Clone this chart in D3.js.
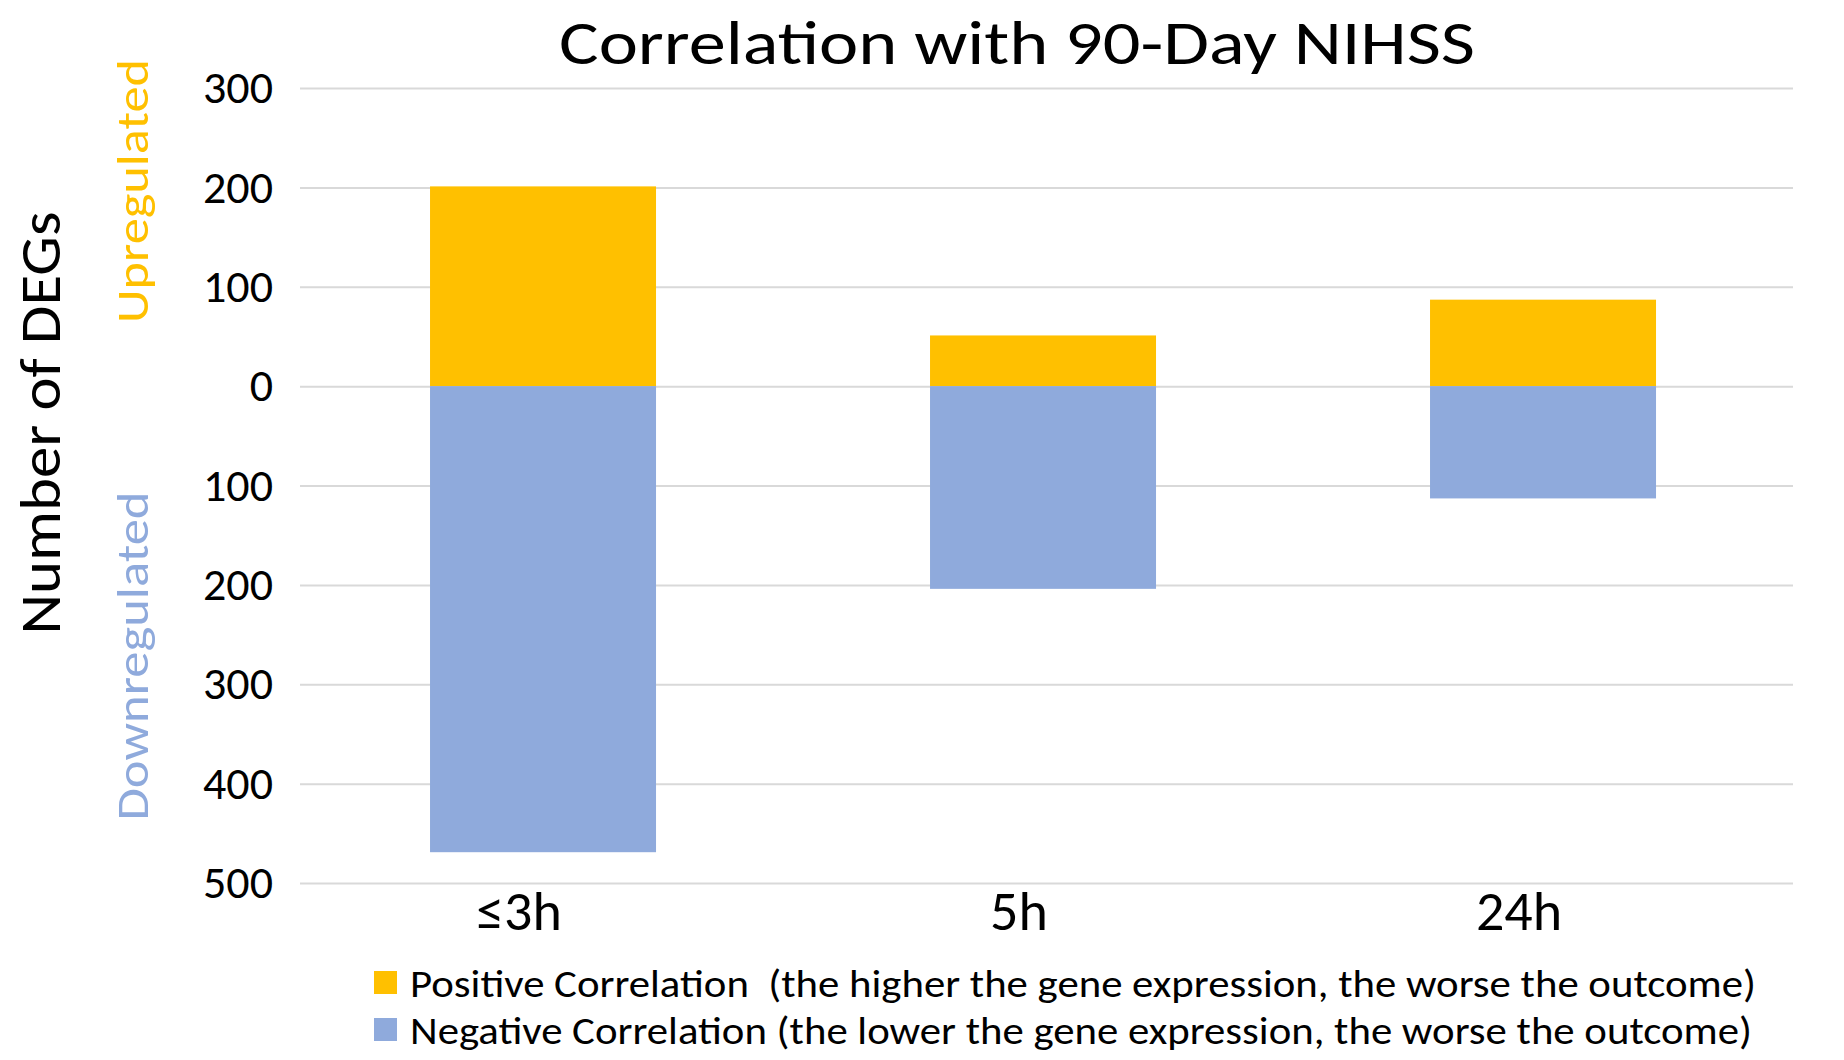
<!DOCTYPE html>
<html>
<head>
<meta charset="utf-8">
<script src="https://cdn.jsdelivr.net/npm/d3@7"></script>
<style>
  body { margin: 0; background: #fff; }
  text { font-family: Carlito, Lato, "Open Sans", sans-serif; }
</style>
</head>
<body>
<div id="chart"></div>
<script>
var categories = ["\u22643h", "5h", "24h"];
var upregulated = [201, 51, 87];      // positive correlation
var downregulated = [469, 204, 113];  // negative correlation
var tickValues = [300, 200, 100, 0, -100, -200, -300, -400, -500];
var legendLabels = [
  "Positive Correlation\u00a0\u00a0(the higher the gene expression, the worse the outcome)",
  "Negative Correlation (the lower the gene expression, the worse the outcome)"
];

var W = 1844, H = 1060;
var svg = d3.select("#chart").append("svg").attr("width", W).attr("height", H),
    margin = {top: 88, right: 51, bottom: 177, left: 300},
    width = W - margin.left - margin.right,
    height = H - margin.top - margin.bottom,
    g = svg.append("g").attr("transform", "translate(" + margin.left + "," + margin.top + ")");

var colUp = "#FFC000", colDown = "#8FAADC";

var x = d3.scaleBand()
    .domain(categories)
    .range([0, width])
    .paddingInner(0.548)
    .paddingOuter(0.267)
    .align(0.487);

var y = d3.scaleLinear()
    .domain([-500, 300])
    .range([height, 0]);

// gridlines + tick labels
var yAxis = g.append("g")
    .call(d3.axisLeft(y).tickValues(tickValues).tickSize(-width).tickPadding(27)
      .tickFormat(function(d) { return Math.abs(d); }));
yAxis.select(".domain").remove();
yAxis.selectAll(".tick line").attr("stroke", "#d9d9d9").attr("stroke-width", 2);
yAxis.selectAll(".tick text").attr("font-size", 46).attr("fill", "#000");

var data = categories.map(function(c, i) { return {cat: c, up: upregulated[i], down: downregulated[i]}; });

g.selectAll(".up")
  .data(data)
  .enter().append("rect")
    .attr("class", "up")
    .attr("x", function(d) { return x(d.cat); })
    .attr("width", x.bandwidth())
    .attr("y", function(d) { return y(d.up); })
    .attr("height", function(d) { return y(0) - y(d.up); })
    .attr("fill", colUp);

g.selectAll(".down")
  .data(data)
  .enter().append("rect")
    .attr("class", "down")
    .attr("x", function(d) { return x(d.cat); })
    .attr("width", x.bandwidth())
    .attr("y", y(0))
    .attr("height", function(d) { return y(-d.down) - y(0); })
    .attr("fill", colDown);

// category labels
g.selectAll(".cat")
  .data(categories)
  .enter().append("text")
    .attr("class", "cat")
    .attr("x", function(d) { return x(d) + x.bandwidth() / 2 - 24; })
    .attr("y", height + 47)
    .attr("text-anchor", "middle")
    .attr("font-size", 56)
    .text(function(d) { return d; });

// title
svg.append("text")
    .attr("x", 1017).attr("y", 64)
    .attr("text-anchor", "middle")
    .attr("font-size", 62)
    .attr("textLength", 916).attr("lengthAdjust", "spacingAndGlyphs")
    .text("Correlation with 90-Day NIHSS");

// y titles
svg.append("text")
    .attr("transform", "translate(60,423) rotate(-90)")
    .attr("text-anchor", "middle")
    .attr("font-size", 58)
    .attr("textLength", 423).attr("lengthAdjust", "spacingAndGlyphs")
    .text("Number of DEGs");

svg.append("text")
    .attr("transform", "translate(148,191) rotate(-90)")
    .attr("text-anchor", "middle")
    .attr("font-size", 46)
    .attr("fill", colUp)
    .attr("textLength", 264).attr("lengthAdjust", "spacingAndGlyphs")
    .text("Upregulated");

svg.append("text")
    .attr("transform", "translate(148,656) rotate(-90)")
    .attr("text-anchor", "middle")
    .attr("font-size", 46)
    .attr("fill", colDown)
    .attr("textLength", 329).attr("lengthAdjust", "spacingAndGlyphs")
    .text("Downregulated");

// legend
var legend = svg.append("g").attr("transform", "translate(374,983)");
var items = legend.selectAll("g")
  .data(legendLabels)
  .enter().append("g")
    .attr("transform", function(d, i) { return "translate(0," + (i * 47) + ")"; });
items.append("rect")
    .attr("x", 0).attr("y", -12)
    .attr("width", 23).attr("height", 23)
    .attr("fill", function(d, i) { return i === 0 ? colUp : colDown; });
items.append("text")
    .attr("x", 36).attr("y", 14)
    .attr("font-size", 38)
    .attr("textLength", function(d, i) { return i === 0 ? 1346 : 1342; })
    .attr("lengthAdjust", "spacingAndGlyphs")
    .text(function(d) { return d; });
</script>
</body>
</html>
